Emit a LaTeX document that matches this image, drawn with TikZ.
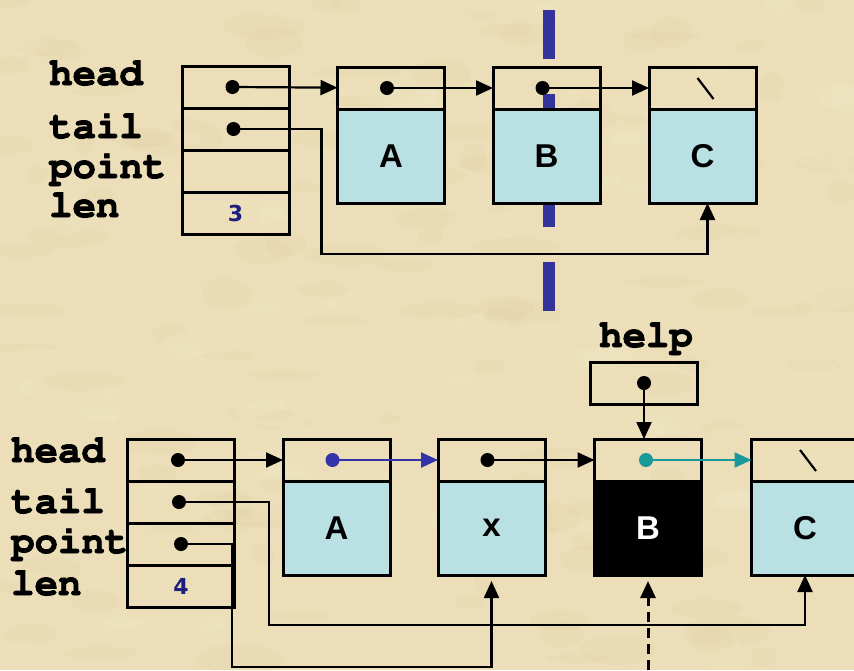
\documentclass[tikz,border=0pt]{standalone}
\usepackage[T1]{fontenc}
\usepackage{fontspec}
\setmainfont{Liberation Sans}
\newfontfamily\numfont{DejaVu Sans}
\usetikzlibrary{positioning}
\usetikzlibrary{calc}
\usetikzlibrary{arrows.meta}
\definecolor{paper}{RGB}{235,222,184}
\definecolor{paperlt}{RGB}{245,236,206}
\definecolor{paperdk}{RGB}{222,200,158}
\definecolor{cellblue}{RGB}{185,224,227}
\definecolor{lennum}{RGB}{30,30,128}
\definecolor{cutbar}{RGB}{51,51,153}
\definecolor{linkblue}{RGB}{51,51,170}
\definecolor{linkteal}{RGB}{25,153,153}
\newcommand{\lblfont}{\fontencoding{T1}\fontfamily{pcr}\fontseries{b}\fontsize{39}{39}\selectfont}
\newcommand{\heavy}[1]{\special{pdf:literal direct 2 Tr 0.9 w}#1\special{pdf:literal direct 0 Tr}}
\tikzset{>={Triangle[length=17pt,width=15pt]}}
\tikzset{fld/.style={draw,line width=3pt,minimum width=107pt,minimum height=42pt,inner sep=0pt,outer sep=0pt}}
\tikzset{dat/.style={fld,fill=cellblue,minimum height=94pt,font=\bfseries\fontsize{33}{33}\selectfont}}
\tikzset{nm/.style={anchor=base west,inner sep=0pt,font=\lblfont}}
\tikzset{num/.style={text=lennum,font=\numfont\bfseries\fontsize{22}{22}\selectfont}}
\tikzset{dotc/.style={circle,fill,minimum size=14pt,inner sep=0pt}}
\tikzset{lnk/.style={line width=2.2pt}}

\begin{document}
\begin{tikzpicture}[x=1pt,y=-1pt]
\fill[paper] (0,0) rectangle (854,670);
\useasboundingbox (0,0) rectangle (854,670);

% parchment blotches
\pgfmathsetseed{11}
\foreach \i in {1,...,260} {
  \pgfmathsetmacro\px{rnd*854}
  \pgfmathsetmacro\py{rnd*670}
  \pgfmathsetmacro\rx{10+rnd*35}
  \pgfmathsetmacro\ry{4+rnd*12}
  \ifodd\i
    \fill[paperdk,opacity=0.12] (\px,\py) ellipse ({\rx pt} and {\ry pt});
  \else
    \fill[paperlt,opacity=0.18] (\px,\py) ellipse ({\rx pt} and {\ry pt});
  \fi
}

\draw[cutbar,line width=12pt,dash pattern=on 49pt off 35pt on 133pt off 35pt on 49pt] (549,10) -- (549,311);

% list before the insert
\node[fld] (hd1) at (235.5,87) {};
\node[fld,below=0pt of hd1] (tl1) {};
\node[fld,below=0pt of tl1] (pn1) {};
\node[fld,num,below=0pt of pn1] (ln1) {3};

\node[nm] (hdl1) at (49,85) {\heavy{head}};
\node[nm] (tll1) at (49,138) {\heavy{tail}};
\node[nm] (pnl1) at (49,178) {\heavy{point}};
\node[nm] (lnl1) at (49,217) {\heavy{len}};

\node[fld] (Ap1) at (391,88) {};
\node[dat,below=0pt of Ap1] (A1) {A};
\node[fld] (Bp1) at (546.5,88) {};
\node[dat,below=0pt of Bp1] (B1) {B};
\node[fld] (Cp1) at (702.5,88) {};
\node[dat,below=0pt of Cp1] (C1) {C};

\node[dotc] (hdd1) at ([xshift=-3pt]hd1.center) {};
\node[dotc] (tld1) at ([xshift=-2pt]tl1.center) {};
\node[dotc] (Ad1) at ([xshift=-4pt]Ap1.center) {};
\node[dotc] (Bd1) at ([xshift=-4pt]Bp1.center) {};

\draw[lnk,->] (hdd1.center) -- (Ap1);
\draw[lnk,->] (Ad1.center) -- (Bp1);
\draw[lnk,->] (Bd1.center) -- (Cp1);
\draw[lnk] ($(Cp1)+(-5,-10)$) -- ++(16,21);
\draw[lnk,->] (tld1.center) -- ++(88,0) |- ($(C1.south)+(5,51)$) -- ([xshift=5pt]C1.south);

% list after the insert
\node[fld] (hd2) at (181,460) {};
\node[fld,below=0pt of hd2] (tl2) {};
\node[fld,below=0pt of tl2] (pn2) {};
\node[fld,num,below=0pt of pn2] (ln2) {4};

\node[nm] (hdl2) at (11,462) {\heavy{head}};
\node[nm] (tll2) at (11,513) {\heavy{tail}};
\node[nm] (pnl2) at (11,553) {\heavy{point}};
\node[nm] (lnl2) at (11,595) {\heavy{len}};

\node[fld] (Ap2) at (336.5,460) {};
\node[dat,below=0pt of Ap2] (A2) {A};
\node[fld] (xp2) at (491.5,460) {};
\node[dat,below=0pt of xp2] (x2) {x};
\node[fld] (Bp2) at (648,460) {};
\node[dat,fill=black,text=white,below=0pt of Bp2] (B2) {B};
\node[fld] (Cp2) at (805,460) {};
\node[dat,below=0pt of Cp2] (C2) {C};

\node[fld] (hp) at (644,383) {};
\node[nm,anchor=base] (hpl) at (646,347) {\heavy{help}};

\node[dotc] (hdd2) at ([xshift=-3pt]hd2.center) {};
\node[dotc] (tld2) at ([xshift=-2pt]tl2.center) {};
\node[dotc] (pnd2) at (pn2.center) {};
\node[dotc,linkblue] (Ad2) at ([xshift=-4pt]Ap2.center) {};
\node[dotc] (xd2) at ([xshift=-4pt]xp2.center) {};
\node[dotc,linkteal] (Bd2) at ([xshift=-2pt]Bp2.center) {};
\node[dotc] (hpd) at (hp.center) {};

\draw[lnk,->] (hdd2.center) -- (Ap2);
\draw[lnk,linkblue,->] (Ad2.center) -- (xp2);
\draw[lnk,->] (xd2.center) -- (Bp2);
\draw[lnk,linkteal,->] (Bd2.center) -- (Cp2);
\draw[lnk] ($(Cp2)+(-5,-10)$) -- ++(16,21);
\draw[lnk,->] (hpd.center) -- (hpd.center |- Bp2.north);
\draw[lnk,->] (tld2.center) -- ++(90,0) |- ($(C2.south)+(0,50)$) -- (C2.south);
\draw[lnk,->,shorten >=6pt] (pnd2.center) -- ++(51,0) -- ++(0,123) -| (x2.south);
\draw[lnk,line width=3pt,dash pattern=on 10pt off 6pt,->,shorten >=6pt] ($(B2.south)+(0,95)$) -- (B2.south);

\end{tikzpicture}
\end{document}
